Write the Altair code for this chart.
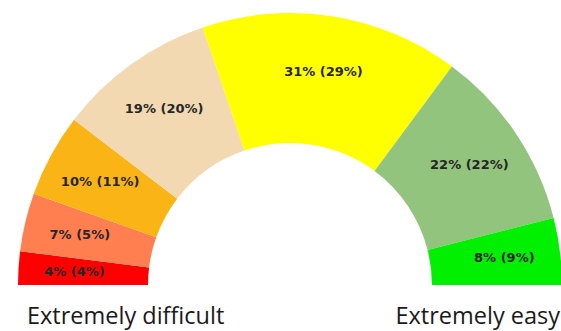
import math
import altair as alt
import pandas as pd

categories = ["c1", "c2", "c3", "c4", "c5", "c6", "c7"]
values = [4, 7, 10, 19, 31, 22, 8]
labels = ["4% (4%)", "7% (5%)", "10% (11%)", "19% (20%)", "31% (29%)", "22% (22%)", "8% (9%)"]
colors = ["#FF0000", "#FF7F50", "#FBB416", "#F3D9B1", "#FFFF00", "#92C47E", "#00F000"]
end_labels = ["Extremely difficult", "Extremely easy"]

df = pd.DataFrame({
    "cat": categories,
    "value": values,
    "label": labels,
    "idx": list(range(len(values))),
})

theta = alt.Theta("value:Q", stack=True,
                  scale=alt.Scale(range=[-math.pi / 2, math.pi / 2]))
order = alt.Order("idx:Q", sort="ascending")

base = alt.Chart(df).encode(
    theta=theta,
    order=order,
    x=alt.value(290),
    y=alt.value(285),
)

arcs = base.mark_arc(outerRadius=272, innerRadius=142, stroke=None).encode(
    color=alt.Color("cat:N", scale=alt.Scale(domain=categories, range=colors), legend=None)
)

texts = base.mark_text(radius=216, font="DejaVu Sans", fontWeight="bold",
                       fontSize=13, color="#262626").encode(text="label:N")

left_lbl = alt.Chart(pd.DataFrame({"t": [end_labels[0]]})).mark_text(
    font="Open Sans", fontSize=23.5, align="left", baseline="alphabetic", color="#1a1a1a"
).encode(text="t:N", x=alt.value(27), y=alt.value(324))

right_lbl = alt.Chart(pd.DataFrame({"t": [end_labels[1]]})).mark_text(
    font="Open Sans", fontSize=23.5, align="right", baseline="alphabetic", color="#1a1a1a"
).encode(text="t:N", x=alt.value(560), y=alt.value(324))

chart = alt.layer(arcs, texts, left_lbl, right_lbl).properties(
    width=561, height=331, padding=0, autosize=alt.AutoSizeParams(type="none")
).configure_view(stroke=None)

chart.save("out.html", embed_options={"renderer": "svg", "actions": False})
